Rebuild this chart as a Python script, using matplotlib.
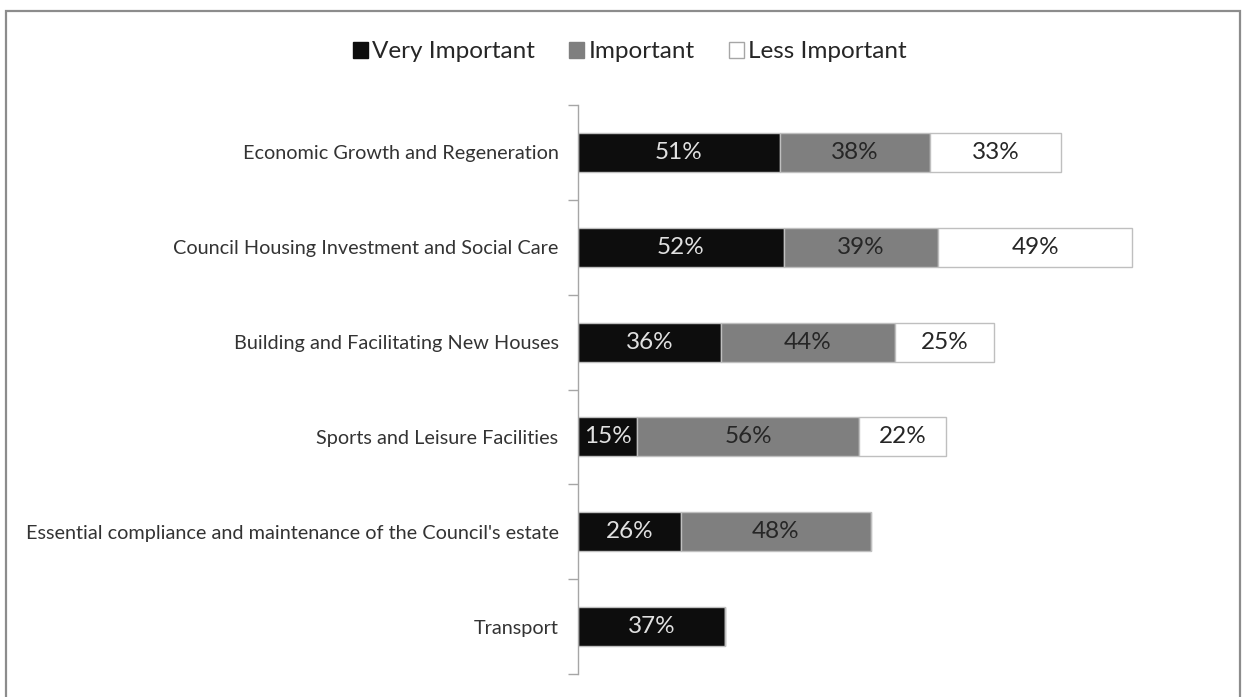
import matplotlib.pyplot as plt
from matplotlib.patches import Patch, Rectangle

categories = [
    "Economic Growth and Regeneration",
    "Council Housing Investment and Social Care",
    "Building and Facilitating New Houses",
    "Sports and Leisure Facilities",
    "Essential compliance and maintenance of the Council's estate",
    "Transport",
]
very_important = [51, 52, 36, 15, 26, 37]
important = [38, 39, 44, 56, 48, 0]
less_important = [33, 49, 25, 22, 0, 0]
series_names = ["Very Important", "Important", "Less Important"]

plt.rcParams['font.family'] = ['Lato', 'DejaVu Sans']

fig = plt.figure(figsize=(12.44, 6.97), dpi=100)
ax = fig.add_axes([578 / 1244, 1 - 674 / 697, (1210 - 578) / 1244, (674 - 105) / 697])

colors = ["#0d0d0d", "#7f7f7f", "#ffffff"]
text_colors = ["#e0e0e0", "#262626", "#262626"]
y = list(range(len(categories)))

left = [0] * len(categories)
for vals, col, tcol in zip([very_important, important, less_important], colors, text_colors):
    ax.barh(y, vals, left=left, height=0.41, color=col, edgecolor="#bfbfbf", linewidth=1)
    for yi, v, l in zip(y, vals, left):
        if v > 0:
            ax.text(l + v / 2, yi, f"{v}%", ha="center", va="center", fontsize=17.5, color=tcol)
    left = [a + b for a, b in zip(left, vals)]

ax.set_ylim(len(categories) - 0.5, -0.5)
ax.set_xlim(0, (1210 - 578) / 3.96)
ax.set_yticks(y)
ax.set_yticklabels(categories, fontsize=14.3, color="#333333")
ax.set_yticks([i - 0.5 for i in range(len(categories) + 1)], minor=True)
ax.tick_params(axis="y", which="major", length=0, pad=14)
ax.tick_params(axis="y", which="minor", length=7, color="#a6a6a6", width=1)
ax.set_xticks([])
for s in ["top", "right", "bottom"]:
    ax.spines[s].set_visible(False)
ax.spines["left"].set_color("#a6a6a6")
ax.spines["left"].set_linewidth(1)

handles = [Patch(facecolor=c, edgecolor="#a6a6a6" if c == "#ffffff" else c, linewidth=1)
           for c in colors]
fig.legend(handles, series_names, loc="center", bbox_to_anchor=(630 / 1244, 1 - 52 / 697),
           ncol=3, frameon=False, fontsize=17.5, handlelength=0.6, handleheight=0.6,
           handletextpad=0.2, columnspacing=1.4, labelcolor="#262626")

fig.patches.append(Rectangle((6 / 1244, -0.02), 1234 / 1244, 1 - 11 / 697 + 0.02,
                             transform=fig.transFigure, fill=False, edgecolor="#8c8c8c",
                             linewidth=1.6))

fig.savefig("out.png", dpi=100)
